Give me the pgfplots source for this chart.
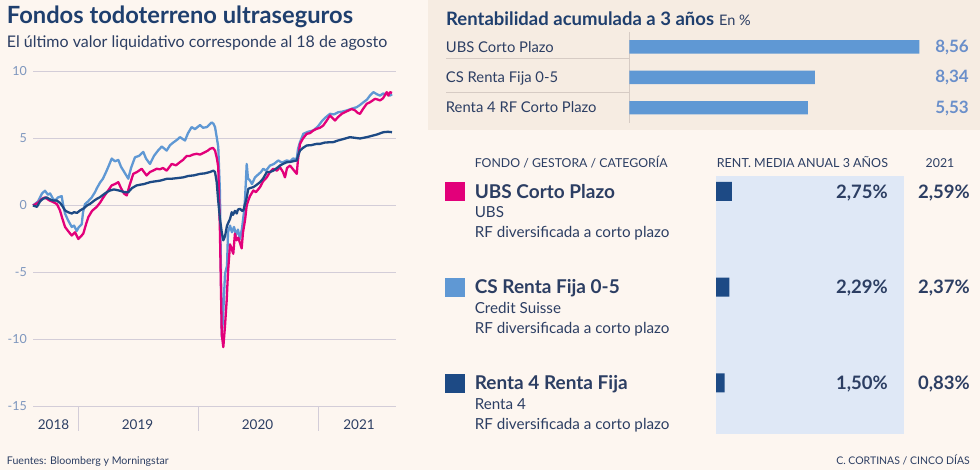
\documentclass[border=0pt]{standalone}
\usepackage{fontspec}
\setmainfont{Lato}
\usepackage{pgfplots}
\pgfplotsset{compat=1.18}

\definecolor{bg}{HTML}{FDF6F0}
\definecolor{boxc}{HTML}{F6ECE2}
\definecolor{pinkc}{HTML}{E2007A}
\definecolor{lblue}{HTML}{5F98D4}
\definecolor{dblue}{HTML}{1D4A85}
\definecolor{titlec}{HTML}{1F3F6E}
\definecolor{textc}{HTML}{2C3E63}
\definecolor{tickc}{HTML}{7D96BE}
\definecolor{gridc}{HTML}{D3CDD8}
\definecolor{sepc}{HTML}{D6CBC4}
\definecolor{valc}{HTML}{6A8FCA}
\definecolor{rectc}{HTML}{DFE8F6}

\newcommand{\fs}[1]{\fontsize{#1}{#1}\selectfont}

\begin{document}
\begin{tikzpicture}
\begin{scope}[x=1pt,y=1pt]
\fill[bg] (0,0) rectangle (980,470);
\useasboundingbox (0,0) rectangle (980,470);
\fill[boxc] (428,340) rectangle (980,470);

% ---- left panel: titles
\node[anchor=base west, inner sep=0, text=titlec, font=\fs{23.7}\bfseries] at (6.7,446.5) {Fondos todoterreno ultraseguros};
\node[anchor=base west, inner sep=0, text=textc, font=\fs{16}] at (6.7,422.1) {El último valor liquidativo corresponde al 18 de agosto};

% ---- top right titles, separators, values
\node[anchor=base west, inner sep=0, text=titlec, font=\fs{18.5}\bfseries] at (446,444.9) {Rentabilidad acumulada a 3 años};
\node[anchor=base west, inner sep=0, text=textc, font=\fs{14.5}] at (719,444.9) {En \%};
\draw[sepc, line width=0.8pt] (446,411.7) -- (629.3,411.7);
\draw[sepc, line width=0.8pt] (446,377.3) -- (629.3,377.3);
\node[anchor=base east, inner sep=0, text=valc, font=\fs{17}\bfseries] at (969,417.9) {8,56};
\node[anchor=base east, inner sep=0, text=valc, font=\fs{17}\bfseries] at (969,387.2) {8,34};
\node[anchor=base east, inner sep=0, text=valc, font=\fs{17}\bfseries] at (969,356.2) {5,53};

% ---- table texts
\node[anchor=base west, inner sep=0, text=textc, font=\fs{12.3}] at (474.6,302.7) {FONDO / GESTORA / CATEGORÍA};
\node[anchor=base west, inner sep=0, text=textc, font=\fs{12.5}] at (716.7,302.7) {RENT. MEDIA ANUAL 3 AÑOS};
\node[anchor=base, inner sep=0, text=textc, font=\fs{12.3}] at (940,302.7) {2021};

\foreach \c/\dy/\nm/\ge in {pinkc/0/UBS Corto Plazo/UBS, lblue/95.8/CS Renta Fija 0-5/Credit Suisse, dblue/191.6/Renta 4 Renta Fija/Renta 4} {
  \fill[\c] (445,269-\dy) rectangle (465,288-\dy);
  \node[anchor=base west, inner sep=0, text=textc, font=\fs{19}\bfseries] at (474.6,271.8-\dy) {\nm};
  \node[anchor=base west, inner sep=0, text=textc, font=\fs{15.2}] at (474.6,252.5-\dy) {\ge};
  \node[anchor=base west, inner sep=0, text=textc, font=\fs{15.2}] at (474.6,232-\dy) {RF diversificada a corto plazo};
}

% ---- footer
\node[anchor=base west, inner sep=0, text=textc, font=\fs{10.6}] at (6.7,5.5) {Fuentes: Bloomberg y Morningstar};
\node[anchor=base east, inner sep=0, text=textc, font=\fs{10.5}] at (970,5.5) {C. CORTINAS / CINCO DÍAS};
\end{scope}

% ---- line chart
\begin{axis}[
    at={(33pt,63.5pt)}, anchor=south west, scale only axis,
    width=362.5pt, height=335pt,
    xmin=2018.625, xmax=2021.646, ymin=-15, ymax=10,
    axis line style={draw=none}, tick style={draw=none},
    ymajorgrids, grid style={gridc, line width=0.8pt},
    ytick={-15,-10,-5,0,5,10},
    yticklabel style={font=\fs{12.5}, text=tickc, inner sep=0pt, xshift=-6pt},
    xtick={2018.796,2019.496,2020.496,2021.342},
    xticklabels={2018,2019,2020,2021},
    xticklabel style={font=\fs{13.5}, text=textc, inner sep=0pt, yshift=-13.5pt},
    /pgf/number format/assume math mode=true,
    every axis plot/.append style={line width=2.3pt, line join=round},
    clip=false,
]
\draw[gridc, line width=0.8pt] (axis cs:2019,-15) -- ([yshift=-25pt]axis cs:2019,-15);
\draw[gridc, line width=0.8pt] (axis cs:2020,-15) -- ([yshift=-25pt]axis cs:2020,-15);
\draw[gridc, line width=0.8pt] (axis cs:2021,-15) -- ([yshift=-25pt]axis cs:2021,-15);

% Light blue: CS Renta Fija 0-5
\addplot[lblue] table {
2018.625 0
2018.667 0.3
2018.700 0.9
2018.725 1.1
2018.750 0.8
2018.767 0.9
2018.792 0.5
2018.808 0.35
2018.833 0.6
2018.864 0.7
2018.875 0.1
2018.892 -0.6
2018.917 -1.1
2018.948 -1.6
2018.967 -1.5
2018.989 -1.9
2019.008 -1.6
2019.031 -1.4
2019.042 -0.5
2019.058 0.1
2019.083 0.3
2019.114 0.6
2019.142 1.0
2019.158 1.3
2019.183 1.7
2019.208 2.0
2019.239 2.6
2019.258 3.0
2019.281 3.5
2019.308 3.3
2019.336 3.4
2019.358 2.9
2019.392 2.4
2019.419 2.0
2019.442 2.8
2019.475 3.6
2019.508 3.7
2019.544 4.0
2019.567 3.5
2019.600 3.1
2019.633 3.7
2019.667 4.1
2019.698 4.4
2019.739 4.1
2019.767 4.5
2019.794 4.7
2019.825 4.9
2019.850 5.1
2019.892 4.85
2019.917 5.4
2019.947 5.85
2019.975 5.7
2020.017 6.0
2020.042 5.8
2020.073 5.85
2020.092 6.0
2020.114 6.2
2020.129 6.1
2020.142 5.85
2020.158 5.0
2020.169 4.35
2020.183 1.0
2020.198 -9.8
2020.208 -8.5
2020.225 -5.1
2020.242 -4.5
2020.250 -2.0
2020.267 -1.5
2020.283 -2.0
2020.300 -1.6
2020.317 -2.2
2020.333 -1.8
2020.350 -2.5
2020.367 -1.7
2020.383 -0.5
2020.392 0.5
2020.406 3.1
2020.417 2.0
2020.433 1.87
2020.450 1.6
2020.475 2.1
2020.500 2.3
2020.525 2.5
2020.544 2.74
2020.567 2.6
2020.600 2.98
2020.633 3.1
2020.669 3.36
2020.700 3.2
2020.739 3.36
2020.767 3.3
2020.792 3.5
2020.823 3.48
2020.833 4.2
2020.850 4.73
2020.878 5.35
2020.917 5.5
2020.961 5.6
2021.000 5.9
2021.033 6.3
2021.067 6.6
2021.100 6.84
2021.133 6.8
2021.169 6.96
2021.200 7.0
2021.239 7.09
2021.275 7.2
2021.323 7.34
2021.350 7.5
2021.378 7.7
2021.408 7.9
2021.433 8.2
2021.461 8.46
2021.492 8.3
2021.517 8.2
2021.542 8.35
2021.573 8.33
2021.600 8.2
2021.617 8.3
};

% Pink: UBS Corto Plazo
\addplot[pinkc] table {
2018.625 0
2018.667 0.2
2018.700 0.5
2018.725 0.6
2018.758 0.4
2018.794 0.25
2018.825 0.1
2018.850 -0.37
2018.867 -0.9
2018.892 -1.6
2018.917 -1.9
2018.948 -2.24
2018.975 -2.0
2019.003 -2.5
2019.025 -2.3
2019.044 -2.1
2019.067 -1.4
2019.086 -0.87
2019.117 -0.4
2019.156 -0.1
2019.183 0.2
2019.211 0.6
2019.242 1.0
2019.281 1.5
2019.308 1.6
2019.336 1.74
2019.358 1.3
2019.383 0.9
2019.406 0.75
2019.433 1.6
2019.461 2.36
2019.492 2.5
2019.531 2.74
2019.550 2.5
2019.572 2.24
2019.600 2.5
2019.625 2.6
2019.656 2.74
2019.683 2.7
2019.708 2.8
2019.739 2.6
2019.781 3.1
2019.817 3.0
2019.850 3.24
2019.875 3.4
2019.906 3.7
2019.933 3.7
2019.958 3.8
2019.989 3.86
2020.017 3.8
2020.058 3.98
2020.083 4.1
2020.100 4.23
2020.125 4.3
2020.142 4.1
2020.158 3.5
2020.169 2.86
2020.183 -2.0
2020.198 -9.6
2020.211 -10.57
2020.225 -9.0
2020.239 -7.1
2020.250 -5.0
2020.267 -2.9
2020.279 -3.2
2020.294 -3.6
2020.308 -2.1
2020.321 -2.6
2020.336 -2.4
2020.350 -2.8
2020.364 -3.2
2020.375 -2.0
2020.392 -1.1
2020.406 0.0
2020.419 0.37
2020.433 0.7
2020.461 1.12
2020.483 1.0
2020.517 1.37
2020.542 1.8
2020.573 2.1
2020.600 2.5
2020.628 2.74
2020.658 2.6
2020.683 2.86
2020.708 2.5
2020.725 2.1
2020.742 2.8
2020.767 2.98
2020.792 2.7
2020.823 2.36
2020.833 3.4
2020.850 4.6
2020.875 5.0
2020.906 5.35
2020.933 5.4
2020.961 5.6
2020.989 5.72
2021.017 5.8
2021.044 5.97
2021.073 6.34
2021.100 6.72
2021.125 6.5
2021.142 6.34
2021.167 6.6
2021.198 6.84
2021.233 7.0
2021.281 7.2
2021.308 7.1
2021.333 6.9
2021.350 6.84
2021.375 7.2
2021.406 7.59
2021.433 7.7
2021.475 7.96
2021.500 7.9
2021.517 7.84
2021.542 8.0
2021.573 8.46
2021.586 8.2
2021.600 8.46
2021.617 8.4
};

% Dark blue: Renta 4 Renta Fija
\addplot[dblue] table {
2018.625 0
2018.658 -0.1
2018.683 0.3
2018.708 0.5
2018.739 0.6
2018.767 0.45
2018.792 0.37
2018.822 0.37
2018.850 0.2
2018.867 0.0
2018.892 -0.37
2018.917 -0.5
2018.948 -0.6
2018.967 -0.5
2018.992 -0.55
2019.017 -0.37
2019.050 -0.2
2019.075 0.0
2019.100 0.12
2019.133 0.35
2019.158 0.5
2019.183 0.62
2019.217 0.85
2019.242 1.0
2019.267 1.12
2019.300 1.2
2019.325 1.15
2019.350 1.1
2019.383 1.0
2019.419 0.99
2019.450 1.3
2019.489 1.5
2019.517 1.55
2019.550 1.6
2019.600 1.74
2019.642 1.8
2019.683 1.85
2019.739 1.99
2019.783 2.0
2019.833 2.05
2019.878 2.1
2019.917 2.2
2019.967 2.25
2020.017 2.36
2020.058 2.4
2020.100 2.5
2020.128 2.6
2020.142 2.5
2020.156 1.74
2020.167 0.5
2020.183 -1.0
2020.198 -2.0
2020.211 -2.6
2020.225 -2.3
2020.242 -1.5
2020.267 -1.0
2020.281 -0.5
2020.292 -0.7
2020.308 -0.4
2020.323 -0.6
2020.333 -0.3
2020.350 -0.25
2020.367 -0.4
2020.378 -0.37
2020.392 0.1
2020.406 0.6
2020.419 1.24
2020.433 1.3
2020.461 1.37
2020.483 1.5
2020.517 1.74
2020.542 2.0
2020.573 2.49
2020.600 2.5
2020.628 2.6
2020.658 2.8
2020.683 2.98
2020.708 3.1
2020.739 3.23
2020.767 3.25
2020.792 3.3
2020.823 3.36
2020.833 3.7
2020.850 4.1
2020.875 4.3
2020.906 4.48
2020.942 4.5
2020.989 4.6
2021.017 4.6
2021.058 4.7
2021.128 4.73
2021.167 4.85
2021.208 4.95
2021.267 5.1
2021.308 5.05
2021.350 5.0
2021.406 5.1
2021.450 5.2
2021.492 5.3
2021.544 5.47
2021.583 5.5
2021.617 5.47
};
\end{axis}

% ---- top right: accumulated return bars
\begin{axis}[
    at={(629.3pt,347pt)}, anchor=south west, scale only axis,
    width=290pt, height=91.3pt,
    xbar, bar width=13.4pt,
    xmin=0, xmax=8.56, ymin=0.5, ymax=3.5, y dir=reverse,
    axis line style={draw=none}, tick style={draw=none},
    xtick=\empty, ytick={1,2,3},
    yticklabels={UBS Corto Plazo, CS Renta Fija 0-5, Renta 4 RF Corto Plazo},
    yticklabel style={anchor=base west, inner sep=0pt, xshift=-179.3pt, yshift=-5.2pt, font=\fs{14.8}, text=textc},
    clip=false,
]
\draw[sepc, line width=0.8pt] (rel axis cs:0,0) -- (rel axis cs:0,1);
\addplot[fill=lblue, draw=none] coordinates {(8.56,1) (5.48,2) (5.27,3)};
\end{axis}

% ---- table bars
\begin{axis}[
    at={(716pt,36pt)}, anchor=south west, scale only axis,
    width=188pt, height=258pt,
    xbar, bar width=19pt,
    xmin=0, xmax=32.41, ymin=0.84, ymax=3.533, y dir=reverse,
    axis background/.style={fill=rectc},
    axis line style={draw=none}, ticks=none,
    clip=false,
]
\addplot[fill=dblue, draw=none] coordinates {(2.75,1) (2.29,2) (1.50,3)};
\node[anchor=base east, inner sep=0, text=textc, font=\fs{18.5}\bfseries, yshift=-6.7pt] at (axis cs:29.66,1) {2,75\%};
\node[anchor=base east, inner sep=0, text=textc, font=\fs{18.5}\bfseries, yshift=-6.7pt] at (axis cs:29.66,2) {2,29\%};
\node[anchor=base east, inner sep=0, text=textc, font=\fs{18.5}\bfseries, yshift=-6.7pt] at (axis cs:29.66,3) {1,50\%};
\node[anchor=base east, inner sep=0, text=textc, font=\fs{18.5}\bfseries, yshift=-6.7pt] at (axis cs:43.79,1) {2,59\%};
\node[anchor=base east, inner sep=0, text=textc, font=\fs{18.5}\bfseries, yshift=-6.7pt] at (axis cs:43.79,2) {2,37\%};
\node[anchor=base east, inner sep=0, text=textc, font=\fs{18.5}\bfseries, yshift=-6.7pt] at (axis cs:43.79,3) {0,83\%};
\end{axis}
\end{tikzpicture}
\end{document}
